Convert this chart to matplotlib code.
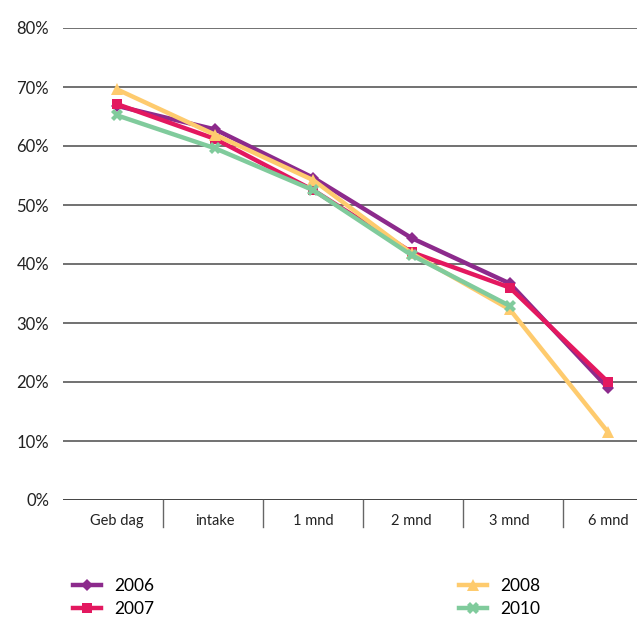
import matplotlib
matplotlib.use("Agg")
import matplotlib.pyplot as plt
from matplotlib.lines import Line2D
import matplotlib.transforms as mtransforms

plt.rcParams['font.family'] = ['Lato', 'DejaVu Sans']

categories = ["Geb dag", "intake", "1 mnd", "2 mnd", "3 mnd", "6 mnd"]
y_ticks = [0, 10, 20, 30, 40, 50, 60, 70, 80]
y_labels = [f"{v}%" for v in y_ticks]

s2006 = [66.8, 62.8, 54.6, 44.4, 36.7, 19.0]
s2007 = [67.1, 61.2, 52.5, 42.0, 36.0, 20.0]
s2008 = [69.6, 61.9, 54.2, 41.8, 32.3, 11.5]
s2010 = [65.2, 59.6, 52.5, 41.5, 32.9]

series = [
    ("2006", s2006, "#8c2a8c", "D", 6),
    ("2007", s2007, "#e3185f", "s", 7),
    ("2008", s2008, "#fecb6e", "^", 8),
    ("2010", s2010, "#80cb9c", "X", 8),
]

fig = plt.figure(figsize=(6.37, 6.17), dpi=100)
ax = fig.add_axes([63 / 637, 117 / 617, 600 / 637, 472 / 617])
ax.set_xlim(-0.55, 5.56)
ax.set_ylim(0, 80)

for v in y_ticks[1:]:
    ax.axhline(v, color="#4a4a4a", lw=1.1, zorder=1)
ax.axhline(0, color="#222222", lw=1.2, zorder=1)

for name, vals, col, mk, ms in series:
    ax.plot(range(len(vals)), vals, color=col, lw=3.2, marker=mk, ms=ms,
            markeredgewidth=0, solid_capstyle="round", zorder=3)

for s in ax.spines.values():
    s.set_visible(False)

ax.set_yticks(y_ticks)
ax.set_yticklabels(y_labels, fontsize=12, color="#222222")
ax.tick_params(axis="y", length=0, pad=10)

ax.set_xticks([])
# category separators below the baseline, evenly spaced along the axis
sep = mtransforms.blended_transform_factory(ax.transAxes, ax.transData)
n = len(categories)
for b in range(1, n):
    ax.plot([b / n, b / n], [0, -4.6], color="#666666", lw=1.0,
            transform=sep, clip_on=False, zorder=1)
for i, c in enumerate(categories):
    ax.text(i, -3.6, c, ha="center", va="center", fontsize=10.5,
            color="#222222", clip_on=False)

handles = [Line2D([0], [0], color=col, lw=3.2, marker=mk, ms=ms,
                  markeredgewidth=0) for _, _, col, mk, ms in series]
labels = [n for n, *_ in series]
fig.legend(handles, labels, ncol=2, loc="upper left",
           bbox_to_anchor=(73 / 637, 1 - 578 / 617), frameon=False,
           handlelength=1.6, handletextpad=0.75,
           columnspacing=17.6, labelspacing=0.4, borderpad=0,
           borderaxespad=0, prop={"size": 12.5})

fig.savefig("out.png", dpi=100)
